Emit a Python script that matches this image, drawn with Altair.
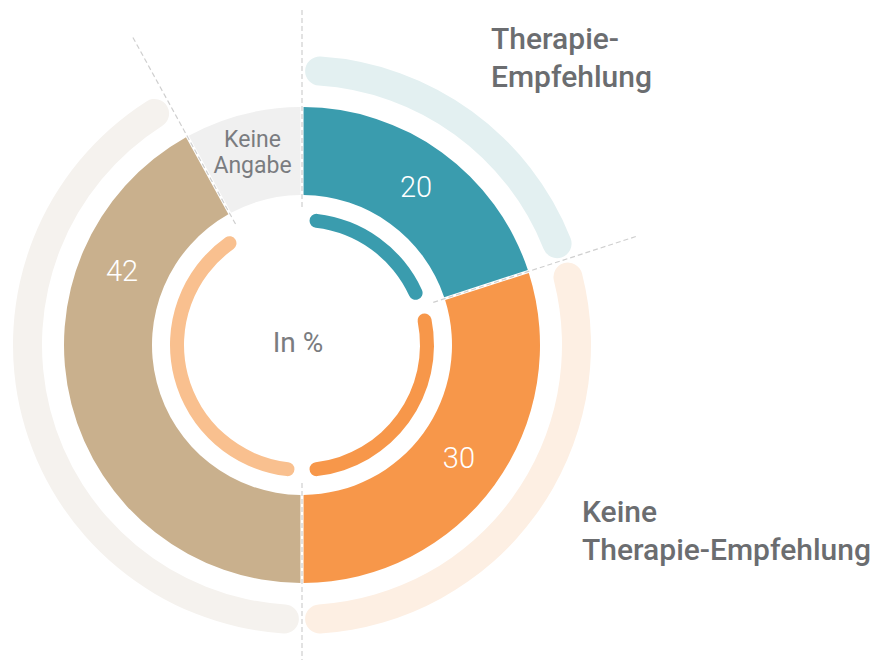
import altair as alt
import pandas as pd

# ---------------- data ----------------
categories = ["Therapie-Empfehlung", "Keine Therapie-Empfehlung", "Sonstige", "Keine Angabe"]
values = [20, 30, 42, 8]
value_labels = ["20", "30", "42", ""]
legend_texts = ["Therapie-\nEmpfehlung", "Keine\nTherapie-Empfehlung"]
center_text = "In %"

# ---------------- styles ----------------
main_colors = ["#3A9CAE", "#F7974A", "#C9B08D", "#F0F0F0"]
outer_colors = ["#E3F0F1", "#FDEFE3", "#F5F2EE", "rgba(255,255,255,0)"]
inner_colors = ["#3A9CAE", "#F7974A", "#F9C08F", "rgba(255,255,255,0)"]
CX, CY = 294, 337
W, H = 862, 652
TITLE_COLOR = "#6B6D70"
GREY_TEXT = "#7A7C80"

df = pd.DataFrame({
    "cat": categories,
    "value": values,
    "idx": list(range(len(values))),
    "label": value_labels,
})
bounds = pd.DataFrame({"b": [0] + list(pd.Series(values).cumsum()[:-1])})
total = sum(values)

base = alt.Chart(df).encode(
    theta=alt.Theta("value:Q", stack=True),
    order=alt.Order("idx:Q"),
    x=alt.value(CX),
    y=alt.value(CY),
)

def cscale(rng):
    return alt.Color("cat:N", scale=alt.Scale(domain=categories, range=rng), legend=None)

outer = base.mark_arc(innerRadius=260, outerRadius=289, padAngle=0.016, cornerRadius=15).encode(
    color=cscale(outer_colors))
inner = base.mark_arc(innerRadius=118, outerRadius=132, padAngle=0.085, cornerRadius=7).encode(
    color=cscale(inner_colors))
main = base.mark_arc(innerRadius=150, outerRadius=238, padAngle=0.011).encode(
    color=cscale(main_colors))

R0, R1 = 138, 352
rules = alt.Chart(bounds).transform_calculate(
    ang=f"2*PI*datum.b/{total}",
    x1=f"{CX} + {R0}*sin(datum.ang)",
    y1=f"{CY} - {R0}*cos(datum.ang)",
    x2=f"{CX} + {R1}*sin(datum.ang)",
    y2=f"{CY} - {R1}*cos(datum.ang)",
).mark_rule(color="#CFCFCF", strokeWidth=1.2, strokeDash=[5, 3]).encode(
    x=alt.X("x1:Q", scale=None), y=alt.Y("y1:Q", scale=None),
    x2="x2:Q", y2="y2:Q",
)

num_mid = base.transform_calculate(t="datum.idx == 2 ? '' : datum.label").mark_text(
    radius=194, font="Roboto", fontWeight=300, fontSize=29, color="white"
).encode(text="t:N", detail="cat:N")

num_42 = base.transform_calculate(t="datum.idx == 2 ? datum.label : ''").mark_text(
    radius=194, font="Roboto", fontWeight=300, fontSize=29, color="white", dx=8, dy=-121
).encode(text="t:N", detail="cat:N")

na_text = base.transform_calculate(t="datum.idx == 3 ? datum.cat : ''").mark_text(
    radius=199, font="Roboto", fontSize=23, color=GREY_TEXT, lineBreak=" ", lineHeight=26, dy=-12
).encode(text="t:N", detail="cat:N")

center = alt.Chart(pd.DataFrame({"t": [center_text]})).mark_text(
    font="Roboto", fontSize=28, color=GREY_TEXT
).encode(text="t:N", x=alt.value(CX - 4), y=alt.value(CY - 1))

leg_df = pd.DataFrame({"t": legend_texts, "i": [0, 1]})
leg1 = alt.Chart(leg_df).transform_filter("datum.i == 0").mark_text(
    lineBreak="\n", font="Roboto", fontWeight=500, fontSize=30,
    color=TITLE_COLOR, align="left", baseline="alphabetic", lineHeight=37.5
).encode(text="t:N", x=alt.value(483), y=alt.value(41))

leg2 = alt.Chart(leg_df).transform_filter("datum.i == 1").mark_text(
    lineBreak="\n", font="Roboto", fontWeight=500, fontSize=30,
    color=TITLE_COLOR, align="left", baseline="alphabetic", lineHeight=37.5
).encode(text="t:N", x=alt.value(574), y=alt.value(514))

chart = alt.layer(
    outer, inner, main, rules, num_mid, num_42, na_text, center, leg1, leg2
).resolve_scale(color="independent").properties(
    width=W, height=H, padding=0, autosize=alt.AutoSizeParams(type="none"), background="white"
).configure_view(stroke=None)

chart.save("out.html", embed_options={"renderer": "svg", "actions": False})
